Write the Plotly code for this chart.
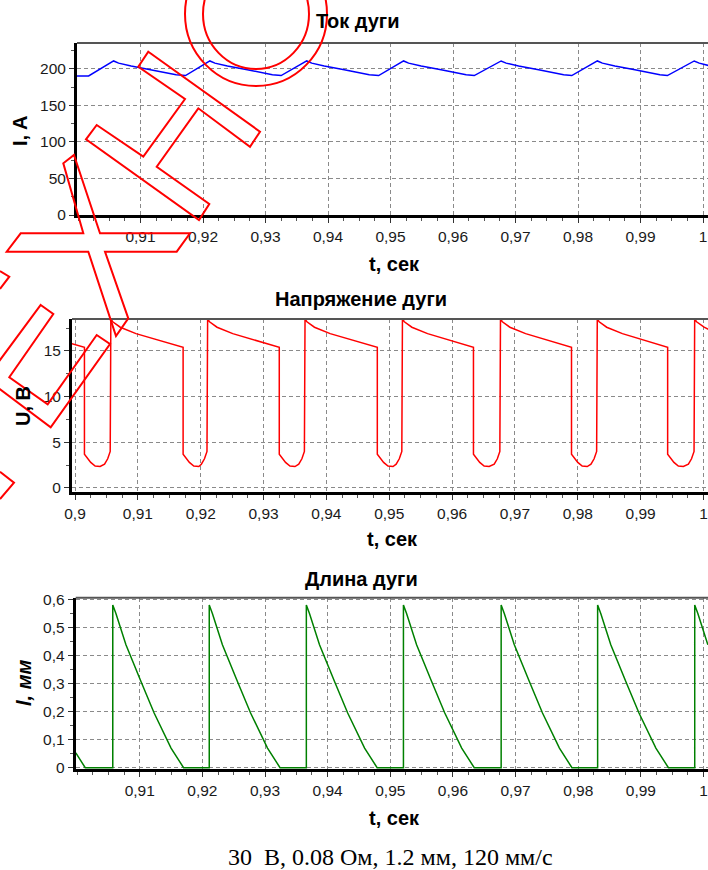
import plotly.graph_objects as go

# ---------------- data ----------------
# Arc current, A
T_CUR = [0.8998, 0.9017, 0.9057, 0.9065, 0.9085, 0.9117, 0.9137, 0.9157, 0.9172,
         0.9211, 0.9219, 0.9239, 0.9271, 0.9291, 0.9311, 0.9325,
         0.9366, 0.9374, 0.9394, 0.9426, 0.9446, 0.9466, 0.9481,
         0.9521, 0.9529, 0.9549, 0.9581, 0.9601, 0.9621, 0.9634,
         0.9677, 0.9685, 0.9705, 0.9737, 0.9757, 0.9777, 0.9790,
         0.9831, 0.9839, 0.9859, 0.9891, 0.9911, 0.9931, 0.9943,
         0.9986, 0.9994, 1.0010]
I_CUR = [190.5, 190.5, 211, 208, 204, 199, 195.5, 192, 191,
         211, 208, 204, 199, 195.5, 192, 191,
         211, 208, 204, 199, 195.5, 192, 191,
         211, 208, 204, 199, 195.5, 192, 191,
         211, 208, 204, 199, 195.5, 192, 191,
         211, 208, 204, 199, 195.5, 192, 191,
         211, 208, 204.5]

# Arc voltage, V
T_VOLT = [0.8995, 0.9015,
          0.9015, 0.9019, 0.9025, 0.9032, 0.9040, 0.9047, 0.9052, 0.9056, 0.9057,
          0.9060, 0.9072, 0.9097, 0.9135, 0.9172,
          0.9172, 0.9176, 0.9182, 0.9189, 0.9197, 0.9201, 0.9206, 0.9210, 0.9211,
          0.9214, 0.9226, 0.9251, 0.9289, 0.9325,
          0.9325, 0.9329, 0.9335, 0.9342, 0.9350, 0.9356, 0.9361, 0.9365, 0.9366,
          0.9369, 0.9381, 0.9406, 0.9444, 0.9481,
          0.9481, 0.9485, 0.9491, 0.9498, 0.9506, 0.9511, 0.9516, 0.9520, 0.9521,
          0.9524, 0.9536, 0.9561, 0.9599, 0.9634,
          0.9634, 0.9638, 0.9644, 0.9651, 0.9659, 0.9667, 0.9672, 0.9676, 0.9677,
          0.9680, 0.9692, 0.9717, 0.9755, 0.9790,
          0.9790, 0.9794, 0.9800, 0.9807, 0.9815, 0.9821, 0.9826, 0.9830, 0.9831,
          0.9834, 0.9846, 0.9871, 0.9909, 0.9943,
          0.9943, 0.9947, 0.9953, 0.9960, 0.9968, 0.9976, 0.9981, 0.9985, 0.9986,
          0.9989, 1.0001, 1.0010]
U_VOLT = [15.8, 15.4,
          3.7, 3.3, 2.8, 2.4, 2.35, 2.6, 3.2, 4.0, 18.5,
          18.2, 17.6, 16.9, 16.1, 15.4,
          3.7, 3.3, 2.8, 2.4, 2.35, 2.6, 3.2, 4.0, 18.5,
          18.2, 17.6, 16.9, 16.1, 15.4,
          3.7, 3.3, 2.8, 2.4, 2.35, 2.6, 3.2, 4.0, 18.5,
          18.2, 17.6, 16.9, 16.1, 15.4,
          3.7, 3.3, 2.8, 2.4, 2.35, 2.6, 3.2, 4.0, 18.5,
          18.2, 17.6, 16.9, 16.1, 15.4,
          3.7, 3.3, 2.8, 2.4, 2.35, 2.6, 3.2, 4.0, 18.5,
          18.2, 17.6, 16.9, 16.1, 15.4,
          3.7, 3.3, 2.8, 2.4, 2.35, 2.6, 3.2, 4.0, 18.5,
          18.2, 17.6, 16.9, 16.1, 15.4,
          3.7, 3.3, 2.8, 2.4, 2.35, 2.6, 3.2, 4.0, 18.5,
          18.2, 17.6, 17.3]

# Arc length, mm
T_LEN = [0.8998, 0.9013,
         0.9057, 0.9057, 0.9062, 0.9078, 0.9102, 0.9123, 0.9150, 0.9170,
         0.9211, 0.9211, 0.9216, 0.9232, 0.9256, 0.9277, 0.9304, 0.9324,
         0.9366, 0.9366, 0.9371, 0.9387, 0.9411, 0.9432, 0.9459, 0.9479,
         0.9521, 0.9521, 0.9526, 0.9542, 0.9566, 0.9587, 0.9614, 0.9634,
         0.9677, 0.9677, 0.9682, 0.9698, 0.9722, 0.9743, 0.9770, 0.9790,
         0.9831, 0.9831, 0.9836, 0.9852, 0.9876, 0.9897, 0.9924, 0.9944,
         0.9986, 0.9986, 0.9991, 1.0007]
L_LEN = [0.053, 0.0,
         0.0, 0.58, 0.55, 0.438, 0.307, 0.195, 0.07, 0.0,
         0.0, 0.58, 0.55, 0.438, 0.307, 0.195, 0.07, 0.0,
         0.0, 0.58, 0.55, 0.438, 0.307, 0.195, 0.07, 0.0,
         0.0, 0.58, 0.55, 0.438, 0.307, 0.195, 0.07, 0.0,
         0.0, 0.58, 0.55, 0.438, 0.307, 0.195, 0.07, 0.0,
         0.0, 0.58, 0.55, 0.438, 0.307, 0.195, 0.07, 0.0,
         0.0, 0.58, 0.55, 0.438]

X_TICKS_TOP = [0.91, 0.92, 0.93, 0.94, 0.95, 0.96, 0.97, 0.98, 0.99, 1.0]
X_TICKS_MID = [0.90, 0.91, 0.92, 0.93, 0.94, 0.95, 0.96, 0.97, 0.98, 0.99, 1.0]
X_TICKS_BOT = [0.91, 0.92, 0.93, 0.94, 0.95, 0.96, 0.97, 0.98, 0.99, 1.0]
Y_TICKS_TOP = [0, 50, 100, 150, 200]
Y_TICKS_MID = [0, 5, 10, 15]
Y_TICKS_BOT = [0, 0.1, 0.2, 0.3, 0.4, 0.5, 0.6]

TITLES = ["Ток дуги", "Напряжение дуги", "Длина дуги"]
X_TITLE = "t, сек"
Y_TITLES = ["I, A", "U, В", "<i>l, мм</i>"]
CAPTION = "30 \u00a0В, 0.08 Ом, 1.2 мм, 120 мм/с"

# ---------------- layout helpers ----------------
W, H = 708, 870


def fx(p):
    return p / W


def fy(p):
    return 1 - p / H


FONT = "Liberation Sans, Arial, sans-serif"
TICKFONT = dict(family=FONT, size=15.5, color="#1a1a1a")


def xaxis(dom_left, rng, ticks, anchor):
    return dict(domain=[fx(dom_left), 1], range=rng, anchor=anchor, automargin=False,
                tickmode="array", tickvals=ticks, ticklabeloverflow="allow",
                showgrid=True, gridcolor="#8a8a8a", griddash="4px,3px", gridwidth=1,
                showline=True, linecolor="black", linewidth=3,
                ticks="outside", ticklen=5, tickwidth=1, tickcolor="#333",
                minor=dict(tickmode="linear", tick0=0.9, dtick=0.0025, ticks="outside",
                           ticklen=3, tickcolor="#555", showgrid=False),
                tickfont=TICKFONT, zeroline=False, fixedrange=True)


def yaxis(dom, rng, ticks, minor_dt, anchor):
    return dict(domain=[fy(dom[1]), fy(dom[0])], range=rng, anchor=anchor, automargin=False,
                tickmode="array", tickvals=ticks,
                showgrid=True, gridcolor="#8a8a8a", griddash="4px,3px", gridwidth=1,
                showline=True, linecolor="black", linewidth=3,
                ticks="outside", ticklen=5, tickwidth=1, tickcolor="#333",
                minor=dict(tickmode="linear", tick0=0, dtick=minor_dt, ticks="outside",
                           ticklen=3, tickcolor="#555", showgrid=False),
                tickfont=TICKFONT, zeroline=False, fixedrange=True)


fig = go.Figure()
fig.add_trace(go.Scatter(x=T_CUR, y=I_CUR, mode="lines",
                         line=dict(color="#0000FF", width=1.5), xaxis="x", yaxis="y"))
fig.add_trace(go.Scatter(x=T_VOLT, y=U_VOLT, mode="lines",
                         line=dict(color="#FF0000", width=1.5), xaxis="x2", yaxis="y2"))
fig.add_trace(go.Scatter(x=T_LEN, y=L_LEN, mode="lines",
                         line=dict(color="#008000", width=1.5), xaxis="x3", yaxis="y3"))

annotations = []


def ann(text, x, y, size=20, bold=True, angle=0, family=FONT):
    annotations.append(dict(text=f"<b>{text}</b>" if bold else text,
                            x=fx(x), y=fy(y), xref="paper", yref="paper",
                            xanchor="center", yanchor="middle", showarrow=False,
                            textangle=angle,
                            font=dict(family=family, size=size, color="black")))


ann(TITLES[0], 358, 21)
ann(TITLES[1], 361, 299)
ann(TITLES[2], 361, 579)
ann(X_TITLE, 394, 264)
ann(X_TITLE, 392, 539)
ann(X_TITLE, 394, 818)
ann(Y_TITLES[0], 20, 131, angle=-90)
ann(Y_TITLES[1], 23, 406, angle=-90)
ann(Y_TITLES[2], 24, 683, angle=-90)
ann(CAPTION, 390, 857, size=24, bold=False, family="Liberation Serif, Times New Roman, serif")

shapes = []
for xr, yr in (("x", "y"), ("x2", "y2"), ("x3", "y3")):
    shapes.append(dict(type="line", xref=f"{xr} domain", yref=f"{yr} domain",
                       x0=0, x1=1, y0=1, y1=1, line=dict(color="#555555", width=2)))


# red stamp outlines overlaid on the reference picture (pixel outlines)
def pix_path(pts, close=True):
    s = "M " + " L ".join(f"{fx(a):.5f},{fy(b):.5f}" for a, b in pts)
    return s + (" Z" if close else "")


STAMP_H = [(148.3, 51.7), (260, 131.7), (250, 146.7), (198.3, 108.3), (156.7, 166.7),
           (209.3, 204), (199, 220), (86, 139.3), (96.7, 125), (143.3, 156.7),
           (185, 99), (138.3, 66.7)]
STAMP_CROSS = [(74, 155), (100, 233.3), (190, 233.3), (176.7, 251.7), (105, 251.7),
               (128.3, 318.3), (116, 336), (88.3, 251.7), (6.7, 251.7), (20.7, 233.3),
               (83.3, 233.3), (63.3, 163.3)]
STAMP_U = [(40.7, 305), (53.3, 314), (9.3, 377.3), (47.7, 404.3), (96.7, 335),
           (110, 344), (50.7, 427.3), (-14, 378.9)]
STAMP_BITS = [[(0, 271), (9.3, 276.7), (0, 289)], [(0, 471.7), (14, 482.7), (0, 499)]]

red = dict(color="#FF0000", width=2)
for poly in (STAMP_H, STAMP_CROSS, STAMP_U):
    shapes.append(dict(type="path", xref="paper", yref="paper", path=pix_path(poly), line=red))
for poly in STAMP_BITS:
    shapes.append(dict(type="path", xref="paper", yref="paper", path=pix_path(poly, False), line=red))
for (cx, cy, rx, ry) in ((256, 14, 71, 72), (256, 14, 53, 55)):
    shapes.append(dict(type="circle", xref="paper", yref="paper",
                       x0=fx(cx - rx), x1=fx(cx + rx), y0=fy(cy + ry), y1=fy(cy - ry), line=red))

fig.update_layout(
    width=W, height=H, autosize=False,
    margin=dict(l=0, r=0, t=0, b=0, pad=0),
    paper_bgcolor="white", plot_bgcolor="white",
    showlegend=False, separators=", ",
    xaxis=xaxis(77, [0.89984, 1.0008], X_TICKS_TOP, "y"),
    yaxis=yaxis((43, 215), [0, 235.6], Y_TICKS_TOP, 25, "x"),
    xaxis2=xaxis(72, [0.89952, 1.00072], X_TICKS_MID, "y2"),
    yaxis2=yaxis((319, 492), [-0.44, 18.5], Y_TICKS_MID, 2.5, "x2"),
    xaxis3=xaxis(75.7, [0.89978, 1.00072], X_TICKS_BOT, "y3"),
    yaxis3=yaxis((597.7, 769), [-0.0046, 0.606], Y_TICKS_BOT, 0.05, "x3"),
    annotations=annotations, shapes=shapes,
)

fig.write_html(
    "out.html",
    config={"displayModeBar": False},
    post_script="document.body.style.margin='0';document.body.style.overflow='hidden';",
)
